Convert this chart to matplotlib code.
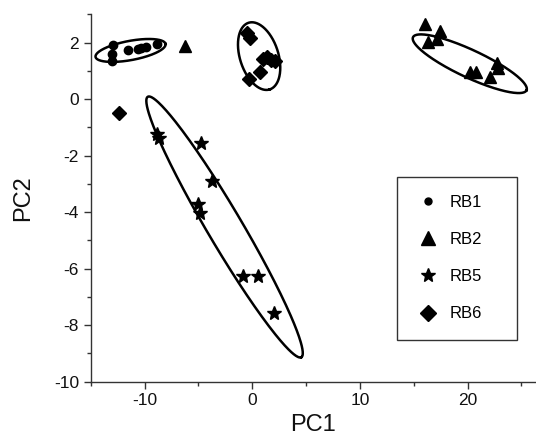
import numpy as np
import matplotlib
matplotlib.use('Agg')
import matplotlib.pyplot as plt
from matplotlib.lines import Line2D
from matplotlib.ticker import MultipleLocator

plt.rcParams['font.family'] = ['Liberation Sans', 'DejaVu Sans']
plt.rcParams['axes.unicode_minus'] = False

# ---- data (PC scores) ----
rb1_x = [-12.97, -13.0, -13.0, -11.5, -10.65, -10.3, -9.9, -8.8]
rb1_y = [1.91, 1.61, 1.33, 1.74, 1.77, 1.81, 1.84, 1.95]

rb2_x = [-6.27, 16.02, 17.42, 16.3, 17.13, 20.2, 20.76, 22.7, 22.8, 22.06]
rb2_y = [1.89, 2.66, 2.41, 2.02, 2.13, 0.96, 0.96, 1.28, 1.1, 0.78]

rb5_x = [-8.88, -8.7, -4.73, -3.71, -5.05, -4.82, -0.86, 0.53, 1.99]
rb5_y = [-1.24, -1.38, -1.57, -2.91, -3.72, -4.03, -6.27, -6.27, -7.56]

rb6_x = [-12.4, -0.52, -0.24, 0.97, 1.34, 1.71, 2.08, 0.69, -0.33]
rb6_y = [-0.49, 2.34, 2.16, 1.42, 1.49, 1.38, 1.35, 0.96, 0.71]

# confidence ellipses: centre, end of major semi-axis, minor/major ratio
ell_cx = [-11.3, 20.2, -2.57, 0.64]
ell_cy = [1.72, 1.25, -4.53, 1.52]
ell_ex = [-8.05, 25.47, 4.56, 1.62]
ell_ey = [1.95, 0.31, -9.14, 0.34]
ell_ratio = [0.27, 0.22, 0.115, 0.55]

labels = ['RB1', 'RB2', 'RB5', 'RB6']

fig = plt.figure(figsize=(5.36, 4.44), dpi=100)
W, H = 536, 444
ax = fig.add_axes([90.7 / W, 1 - 381.5 / H, 1 - 90.7 / W, (381.5 - 14.3) / H])
ax.set_xlim(-15, 26.35)
ax.set_ylim(-10, 3)

ax.plot(rb1_x, rb1_y, 'o', color='k', ms=6, ls='none')
ax.plot(rb2_x, rb2_y, '^', color='k', ms=8.5, ls='none')
ax.plot(rb5_x, rb5_y, '*', color='k', ms=10, ls='none')
ax.plot(rb6_x, rb6_y, 'D', color='k', ms=7.5, ls='none')

t = np.linspace(0, 2 * np.pi, 300)
for cx, cy, ex, ey, r in zip(ell_cx, ell_cy, ell_ex, ell_ey, ell_ratio):
    c = ax.transData.transform((cx, cy))
    e = ax.transData.transform((ex, ey))
    u = e - c
    v = np.array([-u[1], u[0]]) * r
    pts = c + np.outer(np.cos(t), u) + np.outer(np.sin(t), v)
    d = ax.transData.inverted().transform(pts)
    ax.plot(d[:, 0], d[:, 1], color='k', lw=1.8, clip_on=False)

for s in ['top', 'right']:
    ax.spines[s].set_visible(False)
for s in ['left', 'bottom']:
    ax.spines[s].set_linewidth(1.0)
    ax.spines[s].set_color('#333333')

ax.xaxis.set_major_locator(MultipleLocator(10))
ax.xaxis.set_minor_locator(MultipleLocator(5))
ax.yaxis.set_major_locator(MultipleLocator(2))
ax.yaxis.set_minor_locator(MultipleLocator(1))
ax.tick_params(which='major', direction='out', length=5, width=1, color='#333333',
               labelsize=12.5, labelcolor='#111111')
ax.tick_params(which='minor', direction='out', length=3, width=1, color='#333333')

ax.set_xlabel('PC1', fontsize=17, color='#111111', labelpad=4)
ax.set_ylabel('PC2', fontsize=17, color='#111111', labelpad=14)

handles = [
    Line2D([], [], marker='o', color='k', ls='none', ms=5),
    Line2D([], [], marker='^', color='k', ls='none', ms=10),
    Line2D([], [], marker='*', color='k', ls='none', ms=10),
    Line2D([], [], marker='D', color='k', ls='none', ms=8),
]
leg = ax.legend(handles, labels, loc='upper left',
                bbox_to_anchor=(396.7 / W, 1 - 181 / H, (517.3 - 396.7) / W, 0.01),
                bbox_transform=fig.transFigure, mode='expand',
                fontsize=12, frameon=True, fancybox=False, edgecolor='k',
                labelspacing=1.33, handletextpad=0.6, borderpad=1.1,
                handlelength=1.5, borderaxespad=0)
leg.get_frame().set_linewidth(1.0)

fig.savefig('out.png', dpi=100)
